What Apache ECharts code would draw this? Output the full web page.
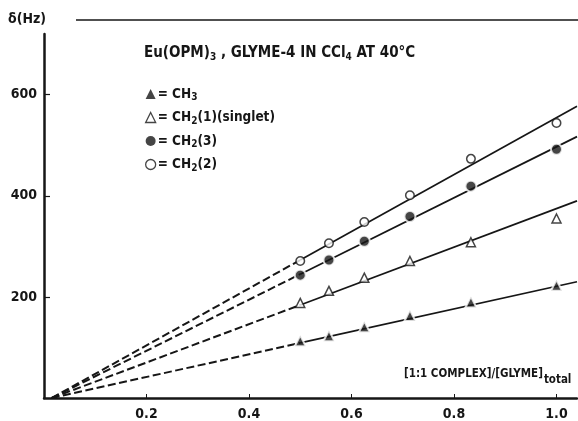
<!DOCTYPE html>
<html>
<head>
<meta charset="utf-8">
<script src="https://cdn.jsdelivr.net/npm/echarts@6/dist/echarts.min.js"></script>
<style>
html,body{margin:0;padding:0;background:#fff;}
#c{width:578px;height:421px;}
</style>
</head>
<body>
<div id="c"></div>
<script>
// ---- data ----
const xValues = [0.5, 0.556, 0.625, 0.714, 0.833, 1.0];
const ch3   = [113, 123, 141, 163, 190, 223];
const ch2_1 = [188, 212, 238, 271, 308, 355];
const ch2_3 = [243, 273, 310, 359, 419, 492];
const ch2_2 = [271, 306, 348, 401, 473, 544];

// fitted straight lines (dashed up to 0.5, solid after)
const fitX     = [0.015, 0.5, 1.04];
const fitCH3   = [0, 109, 230];
const fitCH2_1 = [0, 184, 390];
const fitCH2_3 = [0, 245, 517];
const fitCH2_2 = [0, 273, 577];

const xTicks = [0.2, 0.4, 0.6, 0.8, 1.0];
const yTicks = [200, 400, 600];

const FONT = '"DejaVu Sans Condensed", "Liberation Sans Narrow", sans-serif';
const INK = '#161616';

const chart = echarts.init(document.getElementById('c'), null, {renderer: 'canvas'});

function pts(ys) { return xValues.map((x, i) => [x, ys[i]]); }
function seg(ys, a, b) { return [[fitX[a], ys[a]], [fitX[b], ys[b]]]; }

const fits = [fitCH3, fitCH2_1, fitCH2_3, fitCH2_2];
const lineSeries = [];
fits.forEach(f => {
  lineSeries.push({
    type: 'line', data: seg(f, 0, 1), showSymbol: false, silent: true, z: 2,
    lineStyle: {color: INK, width: 2, type: [8, 3.5]}
  });
  lineSeries.push({
    type: 'line', data: seg(f, 1, 2), showSymbol: false, silent: true, z: 2,
    lineStyle: {color: INK, width: 1.7, type: 'solid'}
  });
});

const filled = {color: INK, borderColor: '#fff', borderWidth: 2};
const hollow = {color: '#fff', borderColor: INK, borderWidth: 1.5};

const legendText = {
  'CH3': '= CH{s|3}',
  'CH2(1)': '= CH{s|2}(1)(singlet)',
  'CH2(3)': '= CH{s|2}(3)',
  'CH2(2)': '= CH{s|2}(2)'
};

const option = {
  animation: false,
  backgroundColor: '#fff',
  grid: {left: 44, right: 1, top: 34, bottom: 21.5, containLabel: false},
  title: [
    {text: 'δ(Hz)', left: 8, top: 12, padding: 0,
     textStyle: {fontFamily: FONT, fontSize: 14, fontWeight: 'bold', color: INK}},
    {text: 'Eu(OPM){s|3} , GLYME-4 IN CCl{s|4} AT 40°C', left: 144, top: 44, padding: 0,
     textStyle: {fontFamily: FONT, fontSize: 15, fontWeight: 'bold', color: INK,
       rich: {s: {fontFamily: FONT, fontSize: 10, fontWeight: 'bold', color: INK, padding: [8, 0, 0, 0]}}}},
    {text: '[1:1 COMPLEX]/[GLYME]{s|total}', left: 404, top: 363, padding: 0,
     textStyle: {fontFamily: FONT, fontSize: 11.5, fontWeight: 'bold', color: INK,
       rich: {s: {fontFamily: FONT, fontSize: 11.5, fontWeight: 'bold', color: INK, padding: [11, 0, 0, 1]}}}}
  ],
  legend: {
    orient: 'vertical', left: 145, top: 86, padding: 0,
    itemWidth: 10, itemHeight: 10, itemGap: 7,
    selectedMode: false,
    data: [
      {name: 'CH3', icon: 'triangle', itemStyle: {color: INK, borderWidth: 0}},
      {name: 'CH2(1)', icon: 'triangle', itemStyle: {color: '#fff', borderColor: INK, borderWidth: 1.3}},
      {name: 'CH2(3)', icon: 'circle', itemStyle: {color: INK, borderWidth: 0}},
      {name: 'CH2(2)', icon: 'circle', itemStyle: {color: '#fff', borderColor: INK, borderWidth: 1.3}}
    ],
    formatter: n => legendText[n],
    textStyle: {fontFamily: FONT, fontSize: 13.5, fontWeight: 'bold', color: INK, lineHeight: 16, padding: [0, 0, 0, -3],
      rich: {s: {fontFamily: FONT, fontSize: 10, fontWeight: 'bold', color: INK, padding: [7, 0, 0, 0]}}}
  },
  xAxis: {
    type: 'value', min: 0, max: 1.04,
    splitLine: {show: false},
    axisLine: {show: true, onZero: false, lineStyle: {color: INK, width: 2.5}},
    axisTick: {show: true, inside: true, length: 4, customValues: xTicks, lineStyle: {color: INK, width: 1}},
    axisLabel: {customValues: xTicks, formatter: v => v.toFixed(1), margin: 9,
      fontFamily: FONT, fontSize: 14, fontWeight: 'bold', color: INK}
  },
  yAxis: {
    type: 'value', min: 0, max: 720,
    splitLine: {show: false},
    axisLine: {show: true, onZero: false, lineStyle: {color: INK, width: 2.5}},
    axisTick: {show: true, inside: true, length: 6, customValues: yTicks, lineStyle: {color: INK, width: 1.2}},
    axisLabel: {customValues: yTicks, margin: 7,
      fontFamily: FONT, fontSize: 14, fontWeight: 'bold', color: INK}
  },
  graphic: [
    {type: 'line', shape: {x1: 76, y1: 20, x2: 578, y2: 20}, style: {stroke: INK, lineWidth: 1.5}}
  ],
  series: lineSeries.concat([
    {name: 'CH3', type: 'scatter', symbol: 'triangle', symbolSize: 11, z: 5, data: pts(ch3), itemStyle: filled},
    {name: 'CH2(1)', type: 'scatter', symbol: 'triangle', symbolSize: 9, z: 5, data: pts(ch2_1), itemStyle: hollow},
    {name: 'CH2(3)', type: 'scatter', symbol: 'circle', symbolSize: 11, z: 5, data: pts(ch2_3), itemStyle: filled},
    {name: 'CH2(2)', type: 'scatter', symbol: 'circle', symbolSize: 8.5, z: 5, data: pts(ch2_2), itemStyle: hollow}
  ])
};
chart.setOption(option);
</script>
</body>
</html>
